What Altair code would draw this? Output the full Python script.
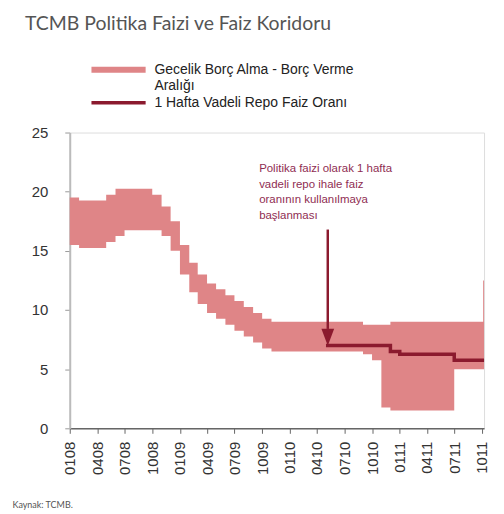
import altair as alt
import pandas as pd

# ---------------- data ----------------
BAND = "Gecelik Borç Alma - Borç Verme Aralığı"
LINE = "1 Hafta Vadeli Repo Faiz Oranı"

# monthly observations, Jan 2008 .. Oct 2011, plus two end points for the last spike
dates = [f"{y}-{m:02d}-01" for y in range(2008, 2012) for m in range(1, 13)][:46]
dates = dates + ["2011-10-05", "2011-10-08"]

lower = [15.50, 15.25, 15.25, 15.25, 15.75, 16.25, 16.75, 16.75, 16.75, 16.75,
         16.25, 15.00, 13.00, 11.50, 10.50, 9.75, 9.25, 8.75, 8.25, 7.75,
         7.25, 6.75, 6.50, 6.50, 6.50, 6.50, 6.50, 6.50, 6.50, 6.50,
         6.50, 6.50, 6.25, 5.75, 1.75, 1.50, 1.50, 1.50, 1.50, 1.50,
         1.50, 1.50, 5.00, 5.00, 5.00, 5.00, 5.00, 5.00]

upper = [19.50, 19.25, 19.25, 19.25, 19.75, 20.25, 20.25, 20.25, 20.25, 19.75,
         18.75, 17.50, 15.50, 14.00, 13.00, 12.25, 11.75, 11.25, 10.75, 10.25,
         9.75, 9.25, 9.00, 9.00, 9.00, 9.00, 9.00, 9.00, 9.00, 9.00,
         9.00, 9.00, 8.75, 8.75, 8.75, 9.00, 9.00, 9.00, 9.00, 9.00,
         9.00, 9.00, 9.00, 9.00, 9.00, 9.00, 12.50, 12.50]

policy = [None, None, None, None, None, None, None, None, None, None,
          None, None, None, None, None, None, None, None, None, None,
          None, None, None, None, None, None, None, None, 7.00, 7.00,
          7.00, 7.00, 7.00, 7.00, 7.00, 6.50, 6.25, 6.25, 6.25, 6.25,
          6.25, 6.25, 5.75, 5.75, 5.75, 5.75, 5.75, 5.75]

tick_months = [(2008, 1), (2008, 4), (2008, 7), (2008, 10), (2009, 1), (2009, 4),
               (2009, 7), (2009, 10), (2010, 1), (2010, 4), (2010, 7), (2010, 10),
               (2011, 1), (2011, 4), (2011, 7), (2011, 10)]

# annotation
arrow_date = ["2010-05-07"]
arrow_top = [16.8]
arrow_bottom = [8.4]
arrow_head = [7.7]
note_date = ["2009-09-21"]
note_y = [22.4]
note_text = ["Politika faizi olarak 1 hafta\nvadeli repo ihale faiz\noranının kullanılmaya\nbaşlanması"]

PINK = "#df8587"
MAROON = "#8b1a2e"
NOTE = "#8f2d52"

df = pd.DataFrame({"date": dates, "lower": lower, "upper": upper, "policy": policy})
arrow_df = pd.DataFrame({"date": arrow_date, "top": arrow_top, "bottom": arrow_bottom, "head": arrow_head})
note_df = pd.DataFrame({"date": note_date, "y": note_y, "text": note_text})

x_scale = alt.Scale(type="utc", domain=[alt.DateTime(year=2008, month=1, date=1, utc=True),
                                         alt.DateTime(year=2011, month=10, date=8, utc=True)])
y_scale = alt.Scale(domain=[0, 25], nice=False)

x_axis = alt.Axis(
    values=[alt.DateTime(year=y, month=m, date=1, utc=True) for y, m in tick_months],
    labelExpr="utcFormat(datum.value, '%m%y')", labelAngle=270, labelAlign="right",
    labelBaseline="middle",
    labelFont="Liberation Sans", labelFontSize=15, labelColor="#333333", labelPadding=8,
    tickSize=5, tickColor="#666666", domainColor="#666666", domainWidth=1.5, grid=False,
    title="Kaynak: TCMB.", titleX=-58, titleY=77, titleAlign="left", titleAnchor="start",
    titleBaseline="middle", titleFont="Lato", titleFontSize=9, titleFontWeight="normal",
    titleColor="#555555",
)
y_axis = alt.Axis(
    values=[0, 5, 10, 15, 20, 25], labelFont="Liberation Sans", labelFontSize=15,
    labelColor="#333333", labelPadding=17, tickSize=5, tickColor="#999999",
    domainColor="#bbbbbb", domainWidth=2, grid=False, title=None,
)

X = alt.X("date:T", scale=x_scale, axis=x_axis)

band = alt.Chart(df).mark_area(interpolate="step-after", color=PINK).encode(
    x=X,
    y=alt.Y("lower:Q", scale=y_scale, axis=y_axis),
    y2="upper:Q",
)

legend = alt.Legend(
    title=None, orient="none", legendX=38, legendY=-74, padding=0,
    symbolType="M-3.4,0H3.4", symbolSize=256, labelFont="Liberation Sans", labelFontSize=14,
    labelColor="#222222", labelLimit=400, labelOffset=25, rowPadding=0,
    labelExpr=f"datum.label == '{BAND}' ? ['Gecelik Borç Alma - Borç Verme', 'Aralığı'] : datum.label",
)

line = alt.Chart(df).transform_filter("datum.policy != null").transform_calculate(
    series=f"'{LINE}'"
).mark_line(interpolate="step-after").encode(
    x=X,
    y=alt.Y("policy:Q", scale=y_scale),
    color=alt.Color("series:N", scale=alt.Scale(domain=[BAND, LINE], range=[PINK, MAROON]), legend=legend),
    strokeWidth=alt.StrokeWidth("series:N", scale=alt.Scale(domain=[BAND, LINE], range=[6, 3.5]), legend=legend),
)

rule = alt.Chart(arrow_df).mark_rule(color=MAROON, strokeWidth=2.5).encode(
    x=X, y=alt.Y("top:Q", scale=y_scale), y2="bottom:Q"
)
head = alt.Chart(arrow_df).mark_point(
    shape="M-0.75,-1L0.75,-1L0,1Z", filled=True, opacity=1, color=MAROON, size=289
).encode(x=X, y=alt.Y("head:Q", scale=y_scale))

note = alt.Chart(note_df).mark_text(
    align="left", baseline="top", lineBreak="\n", font="Liberation Sans", fontSize=11.5,
    lineHeight=15.5, color=NOTE
).encode(x=X, y=alt.Y("y:Q", scale=y_scale), text="text:N")

chart = alt.layer(band, line, rule, head, note).properties(
    width=416, height=297,
    padding={"left": 4, "top": 5, "right": 5, "bottom": 2},
    title=alt.TitleParams(
        "TCMB Politika Faizi ve Faiz Koridoru", anchor="start", frame="group", dx=-45,
        font="Lato", fontSize=19.5, fontWeight="normal", color="#555555", offset=24,
    ),
).configure_view(stroke=None).configure(background="white")

chart.save("out.html", embed_options={"renderer": "svg", "actions": False})
